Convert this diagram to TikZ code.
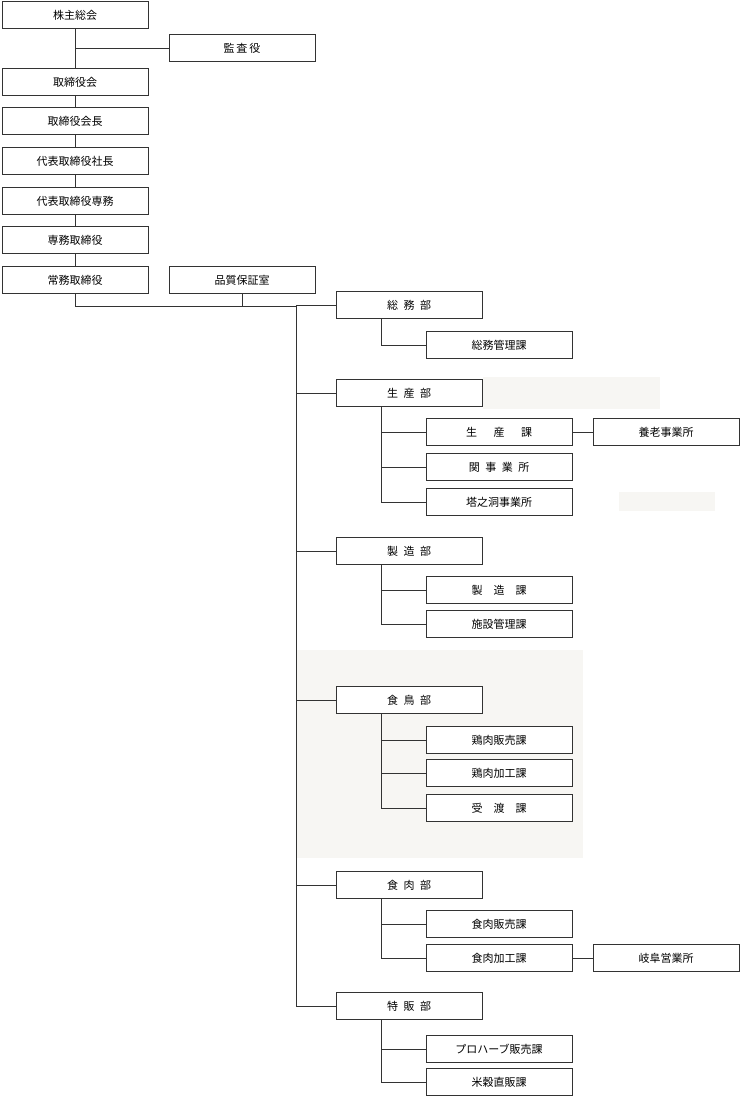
\documentclass[tikz,border=0pt]{standalone}
\usepackage{fontspec}
\setmainfont{Noto Sans CJK JP}
\usetikzlibrary{positioning}
\definecolor{line}{HTML}{333333}
\definecolor{areabg}{HTML}{F7F6F3}
\tikzset{
  x=1pt, y=-1pt,
  box/.style={draw=line, line width=0.7pt, fill=white, minimum width=146pt, minimum height=27pt, inner sep=0pt, font=\fontsize{11pt}{13pt}\selectfont},
  link/.style={draw=line, line width=0.7pt},
}
\begin{document}
\begin{tikzpicture}
  \useasboundingbox (0,0) rectangle (740,1097);
  % shaded areas
  \fill[areabg] (296,650) rectangle (583,858);
  \fill[areabg] (483,377) rectangle (660,409);
  \fill[areabg] (619,492) rectangle (715,511);

  % top chain
  \node[box] (kabu) at (75,15) {株主総会};
  \node[box] (kansa) at (242,48) {監\,査\,役};
  \node[box] (tori) at (75,82) {取締役会};
  \node[box] (kaicho) at (75,121) {取締役会長};
  \node[box] (shacho) at (75,161) {代表取締役社長};
  \node[box] (senmu1) at (75,201) {代表取締役専務};
  \node[box] (senmu2) at (75,240) {専務取締役};
  \node[box] (jomu) at (75,280) {常務取締役};
  \node[box] (hinshitsu) at (242,280) {品質保証室};
  \coordinate (jk) at (75,48);
  \coordinate (trunk) at (296,306);
  \coordinate (trunkend) at (296,1006);
  \coordinate (jb) at (75,306);
  \coordinate (hb) at (242,306);

  \draw[link] (kabu) -- (tori);
  \draw[link] (tori) -- (kaicho);
  \draw[link] (kaicho) -- (shacho);
  \draw[link] (shacho) -- (senmu1);
  \draw[link] (senmu1) -- (senmu2);
  \draw[link] (senmu2) -- (jomu);
  \draw[link] (jk) -- (kansa);
  \draw[link] (jomu) -- (jb) -- (trunk);
  \draw[link] (hinshitsu) -- (hb);
  \draw[link] (trunk) -- (trunkend);

  % departments
  \foreach \name/\y/\txt in {somu/305/総\enspace 務\enspace 部, seisan/393/生\enspace 産\enspace 部, seizo/551/製\enspace 造\enspace 部,
      shokucho/700/食\enspace 鳥\enspace 部, shokuniku/885/食\enspace 肉\enspace 部, tokuhan/1006/特\enspace 販\enspace 部}{
    \node[box] (\name) at (409,\y) {\txt};
    \draw[link] (296,\y) -- (\name);
  }

  % sections
  \foreach \name/\dep/\y/\txt in {
      somukan/somu/345/総務管理課,
      seisanka/seisan/432/生\quad\enspace 産\quad\enspace 課, seki/seisan/467/関\enspace 事\enspace 業\enspace 所, tono/seisan/502/塔之洞事業所,
      seizoka/seizo/590/製\quad 造\quad 課, shisetsu/seizo/624/施設管理課,
      keihan/shokucho/740/鶏肉販売課, keika/shokucho/773/鶏肉加工課, ukewatashi/shokucho/808/受\quad 渡\quad 課,
      nikuhan/shokuniku/924/食肉販売課, nikuka/shokuniku/958/食肉加工課,
      proherb/tokuhan/1049/プロハーブ販売課, beikoku/tokuhan/1082/米穀直販課}{
    \node[box] (\name) at (499,\y) {\txt};
    \draw[link] (381,\y) -- (\name);
  }
  \draw[link] (381,319) -- (381,345);
  \draw[link] (381,407) -- (381,502);
  \draw[link] (381,565) -- (381,624);
  \draw[link] (381,714) -- (381,808);
  \draw[link] (381,899) -- (381,958);
  \draw[link] (381,1020) -- (381,1082);

  % offices
  \node[box] (yoro) at (666,432) {養老事業所};
  \node[box] (gifu) at (666,958) {岐阜営業所};
  \draw[link] (seisanka) -- (yoro);
  \draw[link] (nikuka) -- (gifu);
\end{tikzpicture}
\end{document}
